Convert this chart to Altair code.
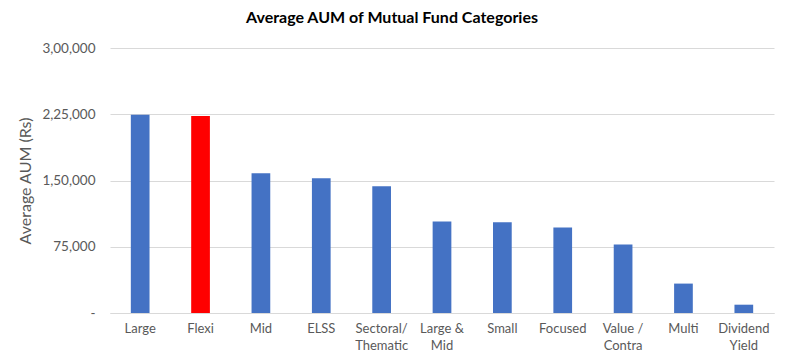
import altair as alt
import pandas as pd

categories = ["Large", "Flexi", "Mid", "ELSS", "Sectoral/\nThematic", "Large &\nMid",
              "Small", "Focused", "Value /\nContra", "Multi", "Dividend\nYield"]
aum = [224500, 223000, 158300, 152600, 143500, 103700, 102600, 96900, 77600, 33300, 9400]
highlight = ["no", "yes", "no", "no", "no", "no", "no", "no", "no", "no", "no"]

y_tick_values = [0, 75000, 150000, 225000, 300000]
y_tick_labels = ["-", "75,000", "1,50,000", "2,25,000", "3,00,000"]

df = pd.DataFrame({"category": categories, "aum": aum, "highlight": highlight})

label_expr = "''"
for v, l in zip(y_tick_values, y_tick_labels):
    label_expr = f"datum.value == {v} ? '{l}' : ({label_expr})"

FONT = "Lato"
GREY = "#595959"

chart = alt.Chart(df).mark_bar().encode(
    x=alt.X("category:N", sort=categories,
            scale=alt.Scale(paddingInner=0.69, paddingOuter=0.345),
            axis=alt.Axis(title=None, labelAngle=0, ticks=False, domain=True,
                          domainColor="#d9d9d9", labelColor=GREY, labelFont=FONT,
                          labelFontSize=13, labelPadding=9, labelLineHeight=17,
                          labelExpr=r"split(datum.label, '\n')")),
    y=alt.Y("aum:Q", scale=alt.Scale(domain=[0, 300000]),
            axis=alt.Axis(title="Average AUM (Rs)", values=y_tick_values,
                          labelExpr=label_expr, ticks=False, domain=False,
                          gridColor="#d9d9d9", labelColor=GREY, labelFont=FONT,
                          labelFontSize=13.5, labelPadding=15, titleColor=GREY,
                          titleFont=FONT, titleFontSize=16, titleFontWeight="normal",
                          titlePadding=8)),
    color=alt.Color("highlight:N", scale=alt.Scale(domain=["no", "yes"],
                    range=["#4472c4", "#ff0000"]), legend=None),
).properties(
    width=664, height=265,
    title=alt.Title("Average AUM of Mutual Fund Categories", font=FONT, fontSize=16,
                    fontWeight="bold", color="#000000", anchor="middle", dx=-50, offset=15),
    autosize=alt.AutoSizeParams(type="none"),
    padding={"left": 102, "top": 40, "right": 5, "bottom": 43},
).configure_view(stroke=None)

chart.save("out.html", embed_options={"renderer": "svg", "actions": False})
